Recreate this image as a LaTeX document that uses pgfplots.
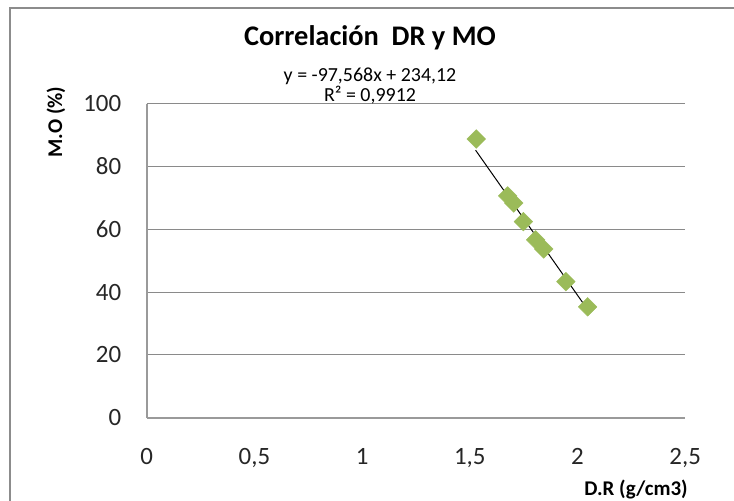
\documentclass[border=0pt]{standalone}
\usepackage{pgfplots}
\pgfplotsset{compat=1.18}
\usepackage{fontspec}
\setmainfont{Carlito}
\definecolor{mkgreen}{HTML}{9BBB59}
\definecolor{gridgray}{HTML}{8A8A8A}
\definecolor{axisgray}{HTML}{9A9A9A}
\definecolor{framegray}{HTML}{8C8C8C}
\begin{document}
\begin{tikzpicture}
\path[use as bounding box] (0,0) rectangle (734bp,-501bp);
\draw[framegray, line width=2.2bp] (10bp,-510bp) -- (10bp,-8bp) -- (740bp,-8bp);
\begin{axis}[
  at={(146.7bp,-417.7bp)}, anchor=south west,
  scale only axis, width=538.5bp, height=314.2bp,
  xmin=0, xmax=2.5, ymin=0, ymax=100,
  xtick={0,0.5,1,1.5,2,2.5}, ytick={0,20,40,60,80,100},
  axis lines*=left,
  axis line style={axisgray, line width=1.6bp},
  major tick length=0pt,
  ymajorgrids, grid style={gridgray, line width=0.9bp},
  /pgf/number format/use comma,
  /pgf/number format/assume math mode=true,
  tick label style={font=\fontsize{25}{30}\selectfont, text=black!85},
  xticklabel style={yshift=-27bp},
  yticklabel style={xshift=-22bp},
  clip=false,
]
\addplot[only marks, mark=square*, mark size=6.6bp,
  mark options={rotate=45, fill=mkgreen, draw=mkgreen}] coordinates {
  (1.530,88.7) (1.676,70.6) (1.704,68.3) (1.749,62.4)
  (1.806,56.6) (1.843,53.7) (1.946,43.3) (2.047,35.3)
};
\addplot[black, line width=1bp] coordinates {(1.527,85.13) (2.054,33.72)};
\end{axis}
\node[anchor=base, font=\fontsize{28.5}{33}\selectfont\bfseries] at (370bp,-45bp) {Correlación\ \ DR y MO};
\node[anchor=base, font=\fontsize{20}{24}\selectfont] at (370bp,-81.7bp) {y = -97,568x + 234,12};
\node[anchor=base, font=\fontsize{20}{24}\selectfont] at (370bp,-101.7bp) {R² = 0,9912};
\node[rotate=90, font=\fontsize{21}{25}\selectfont\bfseries] at (56bp,-122bp) {M.O (\%)};
\node[font=\fontsize{21}{25}\selectfont\bfseries] at (636bp,-490bp) {D.R (g/cm3)};
\end{tikzpicture}
\end{document}
